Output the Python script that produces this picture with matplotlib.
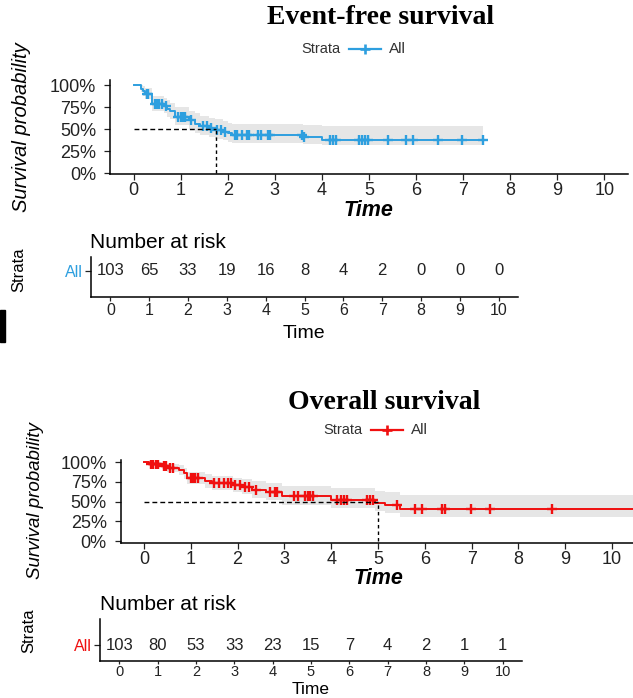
"""
Kaplan-Meier curves (event-free and overall survival) with number-at-risk tables.
"""

import numpy as np
import matplotlib.pyplot as plt
from matplotlib.lines import Line2D
from matplotlib.patches import Rectangle

# --- Event-free survival: step times / survival after each step / CI band ---
efs_times = [0, 0.15, 0.2, 0.25, 0.4, 0.65, 0.72, 0.78, 0.87, 1.18, 1.3, 1.42, 1.6, 1.72, 1.9, 2.0, 2.1, 3.6, 4.0]
efs_surv = [1.0, 0.96, 0.93, 0.90, 0.78, 0.76, 0.73, 0.70, 0.64, 0.60, 0.56, 0.53, 0.51, 0.49, 0.47, 0.45, 0.43, 0.41, 0.37]
efs_upper = [1.0, 1.0, 0.99, 0.97, 0.87, 0.85, 0.83, 0.80, 0.75, 0.71, 0.68, 0.65, 0.63, 0.61, 0.59, 0.57, 0.56, 0.55, 0.53]
efs_lower = [1.0, 0.92, 0.88, 0.84, 0.70, 0.68, 0.64, 0.61, 0.55, 0.50, 0.46, 0.43, 0.41, 0.39, 0.37, 0.355, 0.345, 0.335, 0.315]
efs_end = 7.42
efs_censor = [0.28, 0.31, 0.45, 0.5, 0.55, 0.6, 0.68, 0.95, 1.0, 1.05, 1.1, 1.22, 1.48, 1.55, 1.65, 1.78, 1.85, 1.95,
              2.15, 2.2, 2.3, 2.4, 2.45, 2.65, 2.7, 2.85, 2.9, 3.58, 3.62, 4.18, 4.23, 4.29, 4.79, 4.86, 4.92, 4.97,
              5.4, 5.79, 5.93, 6.46, 6.97, 7.42]
efs_median = 1.75
efs_risk = [103, 65, 33, 19, 16, 8, 4, 2, 0, 0, 0]

# --- Overall survival ---
os_times = [0, 0.1, 0.38, 0.5, 0.75, 0.85, 0.92, 1.3, 1.45, 1.9, 2.1, 2.3, 2.6, 2.95, 4.0, 4.94, 5.15, 5.47]
os_surv = [1.0, 0.98, 0.95, 0.93, 0.90, 0.86, 0.80, 0.76, 0.73, 0.71, 0.68, 0.65, 0.62, 0.565, 0.525, 0.48, 0.455, 0.40]
os_upper = [1.0, 1.0, 0.99, 0.98, 0.96, 0.93, 0.88, 0.85, 0.82, 0.80, 0.78, 0.76, 0.74, 0.70, 0.67, 0.63, 0.62, 0.58]
os_lower = [1.0, 0.95, 0.91, 0.88, 0.84, 0.79, 0.72, 0.67, 0.64, 0.62, 0.59, 0.55, 0.52, 0.46, 0.42, 0.38, 0.35, 0.30]
os_end = 10.7
os_censor = [0.15, 0.2, 0.25, 0.3, 0.42, 0.47, 0.55, 0.62, 1.0, 1.05, 1.1, 1.15, 1.5, 1.6, 1.7, 1.8, 1.85, 1.95,
             2.05, 2.15, 2.25, 2.4, 2.7, 2.8, 2.85, 3.2, 3.3, 3.45, 3.5, 3.55, 3.62, 4.12, 4.2, 4.27, 4.33,
             4.76, 4.83, 4.9, 5.4, 5.79, 5.93, 6.36, 6.43, 6.98, 7.39, 8.72]
os_median = 5.0
os_risk = [103, 80, 53, 33, 23, 15, 7, 4, 2, 1, 1]

risk_times = list(range(11))
y_ticks = [0, 0.25, 0.5, 0.75, 1.0]
y_labels = ["0%", "25%", "50%", "75%", "100%"]

BLUE = "#2E9FDF"
RED = "#F01010"
BAND = "#e6e6e6"
TXT = "#222222"
SANS = "Liberation Sans"
SERIF = "Liberation Serif"

W, H = 633, 698
fig = plt.figure(figsize=(W / 100, H / 100), dpi=100)


def px_axes(left, top, right, bottom):
    return fig.add_axes([left / W, 1 - bottom / H, (right - left) / W, (bottom - top) / H])


def ftext(x, y, s, **kw):
    kw.setdefault("family", SANS)
    kw.setdefault("ha", "center")
    kw.setdefault("va", "center")
    return fig.text(x / W, 1 - y / H, s, **kw)


def style_axes(ax, fs):
    for side in ("top", "right"):
        ax.spines[side].set_visible(False)
    for side in ("left", "bottom"):
        ax.spines[side].set_linewidth(1.1)
    ax.tick_params(direction="out", length=4, width=0.9, colors=TXT, labelsize=fs)
    for lab in ax.get_xticklabels() + ax.get_yticklabels():
        lab.set_family(SANS)


def km_panel(ax, times, surv, upper, lower, end, censor, median, color, ylim):
    t = np.append(times, end)
    s = np.append(surv, surv[-1])
    ax.fill_between(t, np.append(lower, lower[-1]), np.append(upper, upper[-1]),
                    step="post", color=BAND, lw=0)
    ax.step(t, s, where="post", color=color, lw=1.4)
    idx = np.searchsorted(times, censor, side="right") - 1
    ax.plot(censor, np.asarray(surv)[idx], "+", color=color, ms=7.5, mew=1.7, ls="none")
    ax.plot([0, median], [0.5, 0.5], color="black", lw=1, ls=(0, (3.5, 2.2)))
    ax.plot([median, median], [0, 0.5], color="black", lw=1, ls=(0, (2.5, 2.2)))
    ax.set_xlim(-0.5, 10.5)
    ax.set_ylim(*ylim)
    ax.set_xticks(risk_times)
    ax.set_yticks(y_ticks)
    ax.set_yticklabels(y_labels)
    style_axes(ax, 13)
    ax.tick_params(axis="x", pad=2)
    ax.tick_params(axis="y", pad=6)


def risk_panel(ax, counts, ypos, color, tick_fs, tick_len, tick_pad):
    for t, n in zip(risk_times, counts):
        ax.text(t, ypos, str(n), ha="center", va="center", fontsize=12, family=SANS, color=TXT)
    ax.set_xlim(-0.5, 10.5)
    ax.set_ylim(0, 1)
    ax.set_xticks(risk_times)
    ax.set_yticks([ypos])
    ax.set_yticklabels(["All"])
    style_axes(ax, tick_fs)
    ax.tick_params(axis="x", length=tick_len, pad=tick_pad)
    ax.tick_params(axis="y", labelsize=11.5, pad=2)
    ax.get_yticklabels()[0].set_color(color)


def legend(x0, y, color, fs):
    ftext(x0, y, "Strata", ha="left", fontsize=fs, color="#333333")
    lx = x0 + 48
    fig.add_artist(Line2D([lx / W, (lx + 32) / W], [1 - y / H, 1 - y / H], color=color, lw=1.6,
                          transform=fig.transFigure))
    fig.add_artist(Line2D([(lx + 16) / W], [1 - y / H], marker="+", ms=7.5, mew=1.9, color=color,
                          transform=fig.transFigure))
    ftext(lx + 40, y, "All", ha="left", fontsize=fs + 0.5, color="#333333")


# --- Event-free survival ---
ax1 = px_axes(110, 80, 628, 174)
km_panel(ax1, efs_times, efs_surv, efs_upper, efs_lower, efs_end, efs_censor, efs_median, BLUE,
         (-0.011, 1.057))
ftext(381, 18, "Event-free survival", family=SERIF, weight="bold", fontsize=20)
legend(301, 49, BLUE, 10.5)
ftext(22, 127, "Survival probability", rotation=90, style="italic", fontsize=14.5)
ftext(368, 211, "Time", weight="bold", style="italic", fontsize=15.5)

ax2 = px_axes(91, 257, 518, 297)
risk_panel(ax2, efs_risk, 0.65, BLUE, 11.5, 3, 1)
ftext(90, 242, "Number at risk", ha="left", fontsize=15)
ftext(19, 270, "Strata", rotation=90, fontsize=12)
ftext(304, 334, "Time", fontsize=14)

# --- Overall survival ---
ax3 = px_axes(120.6, 459.5, 635.4, 543)
km_panel(ax3, os_times, os_surv, os_upper, os_lower, os_end, os_censor, os_median, RED,
         (-0.025, 1.032))
ftext(384, 403, "Overall survival", family=SERIF, weight="bold", fontsize=20)
legend(323, 430, RED, 10.5)
ftext(36, 501, "Survival probability", rotation=90, style="italic", fontsize=13.5)
ftext(378, 578, "Time", weight="bold", style="italic", fontsize=15.5)

ax4 = px_axes(100, 619, 522, 661)
risk_panel(ax4, os_risk, 0.38, RED, 10.5, 2.5, 0.5)
ftext(100, 604, "Number at risk", ha="left", fontsize=15)
ftext(29, 631, "Strata", rotation=90, fontsize=12)
ftext(311, 697.5, "Time", va="bottom", fontsize=12.5)

# black bar at the left edge of the source image
fig.add_artist(Rectangle((0, 1 - 342 / H), 5 / W, 32 / H, color="black", transform=fig.transFigure))

fig.savefig("out.png", dpi=100)
